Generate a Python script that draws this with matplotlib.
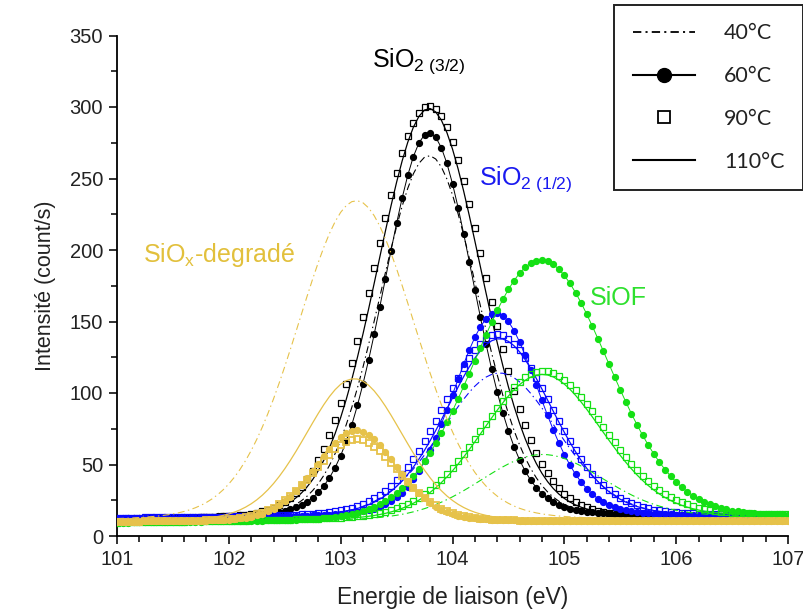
import numpy as np
import matplotlib
matplotlib.use("Agg")
import matplotlib.pyplot as plt
from matplotlib.lines import Line2D
from matplotlib.ticker import MultipleLocator

# ---------------- data ----------------
energy_start, energy_stop, energy_step = 101.0, 107.0, 0.05

temperatures = ["40°C", "60°C", "90°C", "110°C"]
components = ["SiO2 (3/2)", "SiO2 (1/2)", "SiOF", "SiOx-degradé"]

# peak centres (eV) per temperature [40, 60, 90, 110 °C]
center_sio2_32 = [103.79, 103.79, 103.79, 103.79]
center_sio2_12 = [104.42, 104.39, 104.40, 104.42]
center_siof = [104.80, 104.79, 104.81, 104.80]
center_siox = [103.14, 103.14, 103.14, 103.12]

# peak maxima (count/s)
height_sio2_32 = [266, 282, 301, 299]
height_sio2_12 = [114, 156, 141, 138]
height_siof = [57, 193, 115.5, 113]
height_siox = [234.5, 74, 67.7, 110]

# FWHM (eV)
fwhm_sio2_32 = [1.05, 0.95, 1.16, 1.10]
fwhm_sio2_12 = [1.22, 0.92, 1.15, 1.12]
fwhm_siof = [1.30, 1.41, 1.30, 1.27]
fwhm_siox = [1.25, 0.85, 0.90, 1.03]

# Lorentzian fraction of the peak shape
lorentz_sio2_32 = [0.10, 0.15, 0.08, 0.10]
lorentz_sio2_12 = [0.15, 0.20, 0.22, 0.20]
lorentz_siof = [0.10, 0.05, 0.15, 0.10]
lorentz_siox = [0.15, 0.20, 0.20, 0.15]

# background level at 101 eV and at 107 eV, per component
background_low = [11, 12, 9.0, 9.5]
background_high = [13, 13, 14, 10]

# ---------------- styling ----------------
colors = ["#000000", "#0a0aff", "#14e014", "#e6c24a"]
label_colors = ["#000000", "#1a1af0", "#2ee02e", "#e2c03c"]

plt.rcParams["font.family"] = ["Liberation Sans", "DejaVu Sans"]
plt.rcParams["mathtext.fontset"] = "custom"
plt.rcParams["mathtext.rm"] = "Liberation Sans"
plt.rcParams["mathtext.it"] = "Liberation Sans"
plt.rcParams["lines.scale_dashes"] = False

fig = plt.figure(figsize=(8.04, 6.11), dpi=100)
ax = fig.add_axes([117 / 804, (611 - 536) / 611, (788 - 117) / 804, (536 - 35.5) / 611])

energy = np.round(np.arange(energy_start, energy_stop + energy_step / 2, energy_step), 3)

centers = [center_sio2_32, center_sio2_12, center_siof, center_siox]
heights = [height_sio2_32, height_sio2_12, height_siof, height_siox]
fwhms = [fwhm_sio2_32, fwhm_sio2_12, fwhm_siof, fwhm_siox]
lorentz = [lorentz_sio2_32, lorentz_sio2_12, lorentz_siof, lorentz_siox]


def peak_profile(x, c, h, w, eta, b0, b1):
    bg = b0 + (b1 - b0) * (x - energy_start) / (energy_stop - energy_start)
    bgc = b0 + (b1 - b0) * (c - energy_start) / (energy_stop - energy_start)
    u = (x - c) / w
    shape = (1 - eta) * np.exp(-4 * np.log(2) * u ** 2) + eta / (1 + 4 * u ** 2)
    return bg + (h - bgc) * shape


dashdot = (0, (5, 2.5, 1, 2.5))
for ci in range(4):
    col = colors[ci]
    for ti in range(4):
        y = peak_profile(energy, centers[ci][ti], heights[ci][ti], fwhms[ci][ti],
                         lorentz[ci][ti], background_low[ci], background_high[ci])
        if ti == 0:
            ax.plot(energy, y, color=col, lw=0.8, ls=dashdot, zorder=2 + ci)
        elif ti == 1:
            ax.plot(energy, y, color=col, lw=0.7, marker="o", ms=4.2, mec=col, mfc=col,
                    zorder=2 + ci)
        elif ti == 2:
            ms = 4.5 if ci == 3 else 3.9
            mew = 1.3 if ci == 3 else 0.9
            ax.plot(energy, y, ls="none", marker="s", ms=ms, mfc="none", mec=col, mew=mew,
                    zorder=2 + ci)
        else:
            ax.plot(energy, y, color=col, lw=0.9, zorder=2 + ci)

# ---------------- axes ----------------
ax.set_xlim(101, 107)
ax.set_ylim(0, 350)
ax.xaxis.set_major_locator(MultipleLocator(1))
ax.xaxis.set_minor_locator(MultipleLocator(0.2))
ax.yaxis.set_major_locator(MultipleLocator(50))
ax.yaxis.set_minor_locator(MultipleLocator(25))
for s in ["top", "right"]:
    ax.spines[s].set_visible(False)
for s in ["left", "bottom"]:
    ax.spines[s].set_linewidth(1.3)
ax.tick_params(which="major", direction="out", length=6, width=1.3, labelsize=14.5,
               colors="#222222", pad=4)
ax.tick_params(which="minor", direction="out", length=4, width=1.1)
ax.set_xlabel("Energie de liaison (eV)", fontsize=16.5, color="#222222", labelpad=12)
ax.set_ylabel("Intensité (count/s)", fontsize=15.5, color="#222222", labelpad=10)

# ---------------- component labels ----------------
ax.text(103.28, 328, r"SiO$_{\mathrm{2\ (3/2)}}$", fontsize=18, color=label_colors[0],
        ha="left", va="baseline")
ax.text(104.24, 245.5, r"SiO$_{\mathrm{2\ (1/2)}}$", fontsize=18, color=label_colors[1],
        ha="left", va="baseline")
ax.text(105.23, 161.5, "SiOF", fontsize=18, color=label_colors[2], ha="left", va="baseline")
ax.text(101.23, 191.8, r"SiO$_{\mathrm{x}}$-degradé", fontsize=18, color=label_colors[3],
        ha="left", va="baseline")

# ---------------- legend ----------------
handles = [
    Line2D([], [], color="k", lw=1.3, ls=(0, (6, 3, 1.5, 3))),
    Line2D([], [], color="k", lw=1.5, marker="o", ms=10),
    Line2D([], [], color="k", ls="none", marker="s", ms=9, mfc="white", mew=1.3),
    Line2D([], [], color="k", lw=1.5),
]
leg = ax.legend(handles, temperatures, loc="upper right",
                bbox_to_anchor=(803 / 804, 1 - 5 / 611), bbox_transform=fig.transFigure,
                borderaxespad=0, prop={"family": "Lato", "size": 15.5},
                handlelength=2.9, handletextpad=1.35, labelspacing=1.06, borderpad=0.85,
                fancybox=False, framealpha=1, edgecolor="#222222", numpoints=1)
leg.get_frame().set_linewidth(1.4)
for t in leg.get_texts():
    t.set_color("#222222")

fig.savefig("out.png", dpi=100)
